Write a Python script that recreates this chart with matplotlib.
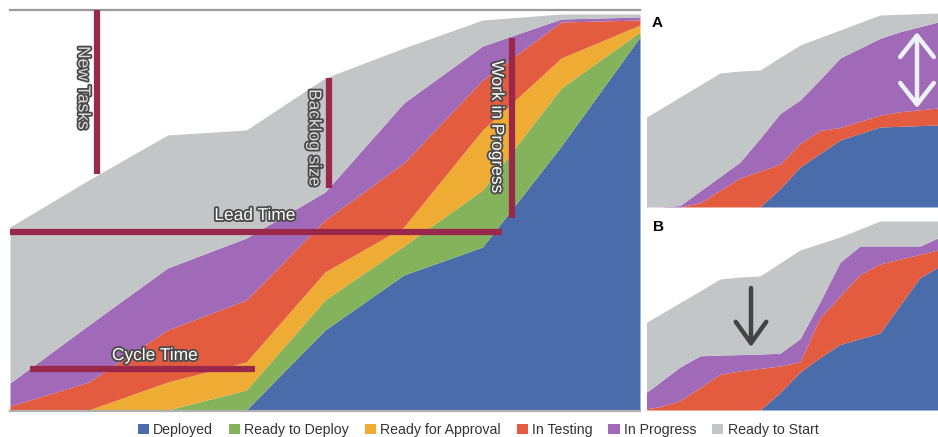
import matplotlib
matplotlib.use("Agg")
import matplotlib.pyplot as plt
import matplotlib.patheffects as pe
from matplotlib.patches import Patch

plt.rcParams['font.family'] = ['Liberation Sans', 'DejaVu Sans']

# ---------------- data ----------------
series_names = ["Deployed", "Ready to Deploy", "Ready for Approval",
                "In Testing", "In Progress", "Ready to Start"]
series_colors = ["#4A6CAB", "#84B35C", "#EEAC34", "#E35C40", "#A06AB9", "#C3C6C6"]

# main chart: cumulative task counts per day (top of each band)
main_days = [0, 1, 2, 3, 4, 5, 6, 7, 8]
main_deployed = [0, 0, 0, 0, 20, 33.75, 40.75, 66, 93.25]
main_ready_deploy = [0, 0, 0, 5, 27.5, 41, 55, 80.5, 94.5]
main_ready_approval = [0, 0, 7, 12, 34.5, 45.75, 70, 88, 96.25]
main_testing = [1, 7, 20, 27.5, 47.5, 61.75, 82.5, 97, 97.5]
main_progress = [6.75, 21.25, 35.5, 43, 54.5, 76.75, 91, 97.75, 98.25]
main_ready_start = [45.75, 57.5, 68.75, 70, 83, 90.5, 97.5, 99, 99]

# panel A (WIP growing)
a_days = list(range(16))
a_deployed = [0, 0, 0, 0, 0, 0, 0, 9.2, 20, 26.75, 33.5, 36.75, 40, 40.35, 40.7, 41]
a_testing = [0, 0, 0, 2.15, 8.35, 14.5, 18, 21.5, 31.75, 38.25, 39.75, 42.85, 45.9, 47.65, 48.6, 49.6]
a_progress = [0, 0, 0.75, 8, 15.2, 22.5, 34.3, 46.7, 53.5, 63.7, 74.5, 79.4, 84.3, 87.65, 90.2, 92.75]
a_ready_start = [43, 49, 55, 61, 67, 68, 68.5, 74.75, 81, 84.75, 88.5, 92.25, 96, 96.35, 96.7, 97]

# panel B (WIP shrinking)
b_days = list(range(16))
b_deployed = [0, 0, 0, 0, 0, 0, 0, 8.7, 19, 26.25, 32.8, 35.65, 38.5, 52.45, 66.2, 72]
b_testing = [0, 1.7, 4.65, 11.25, 17.85, 19.6, 20.8, 22, 24.1, 46.2, 57, 67.75, 73.05, 75.45, 77.85, 80.25]
b_progress = [6.5, 13.9, 21.5, 27.1, 27.5, 27.7, 28, 28.35, 35.65, 54.1, 73.85, 82, 82, 82, 82, 86.5]
b_ready_start = [42, 47.8, 53.7, 59.55, 65.5, 66.5, 67, 73.5, 80, 83.25, 86.5, 90.5, 94.5, 94.5, 94.5, 94.5]

# ---------------- figure ----------------
W, H = 938, 437
fig = plt.figure(figsize=(W / 100, H / 100), dpi=100)


def ax_px(x0, y0, x1, y1):
    return fig.add_axes([x0 / W, 1 - y1 / H, (x1 - x0) / W, (y1 - y0) / H])


def draw_cfd(ax, x, tops, colors):
    prev = [0] * len(x)
    for top, c in zip(tops, colors):
        ax.fill_between(x, prev, top, color=c, linewidth=0, zorder=1)
        prev = top


def clean(ax):
    for s in ax.spines.values():
        s.set_visible(False)
    ax.set_xticks([])
    ax.set_yticks([])
    ax.patch.set_alpha(0)


# main chart
ax = ax_px(10, 10, 640, 410)
draw_cfd(ax, main_days,
         [main_deployed, main_ready_deploy, main_ready_approval,
          main_testing, main_progress, main_ready_start],
         series_colors)
ax.set_xlim(0, 8)
ax.set_ylim(0, 100)
clean(ax)
ax.axhline(100, color="#9a9a9a", lw=1.6, zorder=3, clip_on=False)
ax.axhline(-0.3, color="#b0b0b0", lw=1.6, zorder=3, clip_on=False)

maroon = "#9A284A"
bar_lw = 4.5
txt_fx = [pe.withStroke(linewidth=2.6, foreground="#4a4a4a")]

# vertical annotation bars
ax.plot([1.105, 1.105], [59.0, 100], color=maroon, lw=bar_lw, solid_capstyle="butt", zorder=4)
ax.plot([4.05, 4.05], [55.5, 83.0], color=maroon, lw=bar_lw, solid_capstyle="butt", zorder=4)
ax.plot([6.375, 6.375], [48.0, 93.0], color=maroon, lw=bar_lw, solid_capstyle="butt", zorder=4)
# horizontal annotation bars
ax.plot([0, 6.25], [44.5, 44.5], color=maroon, lw=bar_lw, solid_capstyle="butt", zorder=4, clip_on=False)
ax.plot([0.254, 3.11], [10.25, 10.25], color=maroon, lw=bar_lw, solid_capstyle="butt", zorder=4)

tkw = dict(fontsize=12.5, ha="center", va="center", zorder=5, path_effects=txt_fx)
ax.text(0.927, 80.5, "New Tasks", rotation=-90, color="#dcdcdc", **tkw)
ax.text(3.86, 68.0, "Backlog size", rotation=-90, color="#dcdcdc", **tkw)
ax.text(6.18, 70.75, "Work in Progress", rotation=-90, color="white", **tkw)
ax.text(3.11, 48.6, "Lead Time", color="white", **tkw)
ax.text(1.84, 13.6, "Cycle Time", color="white", **tkw)

small_colors = [series_colors[0], series_colors[3], series_colors[4], series_colors[5]]

# panel A
axa = ax_px(647, 10, 938, 207)
draw_cfd(axa, a_days, [a_deployed, a_testing, a_progress, a_ready_start], small_colors)
axa.set_xlim(0.35, 14.9)
axa.set_ylim(0, 98.5)
clean(axa)
axa.annotate("", xy=(13.85, 87.5), xytext=(13.85, 49.5),
             arrowprops=dict(arrowstyle="<->,head_length=0.7,head_width=0.55",
                             color="#eef3fb", lw=3.2, mutation_scale=22,
                             shrinkA=0, shrinkB=0), zorder=5)

# panel B
axb = ax_px(647, 213, 938, 410)
draw_cfd(axb, b_days, [b_deployed, b_testing, b_progress, b_ready_start], small_colors)
axb.set_xlim(0.35, 14.9)
axb.set_ylim(0, 98.5)
clean(axb)
axb.annotate("", xy=(5.55, 31.5), xytext=(5.55, 61.0),
             arrowprops=dict(arrowstyle="->,head_length=0.7,head_width=0.5",
                             color="#444444", lw=3.2, mutation_scale=22,
                             shrinkA=0, shrinkB=0), zorder=5)

fig.text(657 / W, 1 - 23 / H, "A", fontsize=11, fontweight="bold", ha="center", va="center")
fig.text(658 / W, 1 - 227 / H, "B", fontsize=11, fontweight="bold", ha="center", va="center")

# legend
handles = [Patch(facecolor=c, edgecolor="none", label=n) for c, n in zip(series_colors, series_names)]
fig.legend(handles=handles, loc="center", bbox_to_anchor=(478 / W, 1 - 430 / H), ncol=6,
           frameon=False, fontsize=10.2, handlelength=0.8, handleheight=0.8,
           handletextpad=0.3, columnspacing=1.1, labelcolor="#333333",
           borderpad=0, borderaxespad=0)

fig.savefig("out.png", dpi=100)
